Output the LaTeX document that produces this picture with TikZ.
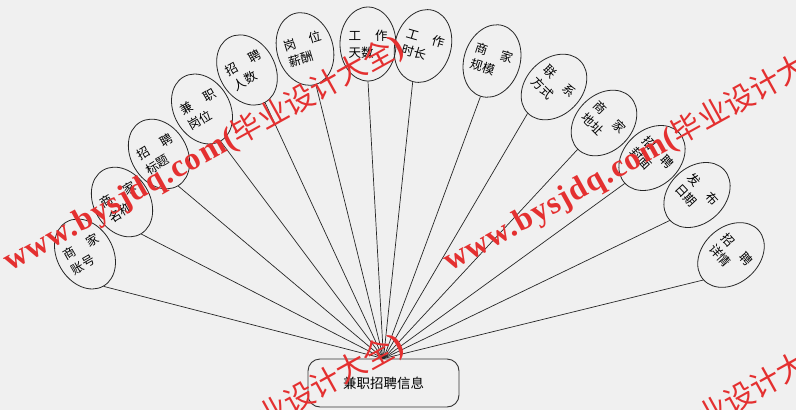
\documentclass[tikz,border=0pt]{standalone}
\usepackage{fontspec}
\setmainfont{Liberation Serif}
\newfontfamily\cjk{Noto Sans CJK SC}
\newfontfamily\wmlatin[LetterSpace=4]{Liberation Serif}
\usetikzlibrary{shapes.geometric}
\definecolor{bg}{RGB}{240,240,240}
\definecolor{wm}{RGB}{228,48,48}
\begin{document}
\begin{tikzpicture}[x=1pt,y=-1pt,
  attr/.style={draw=black!85, line width=0.8pt, ellipse, minimum width=56pt, minimum height=74pt, inner sep=0pt, align=left, font=\cjk\fontsize{12.5}{17}\selectfont},
  ent/.style={draw=black!80, line width=0.9pt, rounded corners=12pt, minimum width=151pt, minimum height=48pt, font=\cjk\fontsize{13.5}{16}\selectfont},
  link/.style={draw=black!85, line width=0.7pt},
  wmark/.style={text=wm, font=\wmlatin\bfseries\fontsize{32}{32}\selectfont, rotate=29, anchor=base west, inner sep=0pt}
]
\fill[bg] (0,0) rectangle (796,410);
\useasboundingbox (0,0) rectangle (796,410);

\node[ent] (ent) at (383.5,383) {兼职招聘信息};

\node[attr, rotate=30] (e1) at (85,254) {商\hspace{14pt}家\\账号};
\node[attr, rotate=31] (e2) at (122,202) {商\hspace{14pt}家\\名称};
\node[attr, rotate=31] (e3) at (159,154) {招\hspace{14pt}聘\\标题};
\node[attr, rotate=30] (e4) at (202,109) {兼\hspace{14pt}职\\岗位};
\node[attr, rotate=29] (e5) at (247,70) {招\hspace{14pt}聘\\人数};
\node[attr, rotate=17] (e6) at (305,49) {岗\hspace{14pt}位\\薪酬};
\node[attr, rotate=0] (e7) at (368,44) {工\hspace{14pt}作\\天数};
\node[attr, rotate=-16] (e8) at (423,46) {工\hspace{14pt}作\\时长};
\node[attr, rotate=-18] (e9) at (492,61) {商\hspace{14pt}家\\规模};
\node[attr, rotate=-45] (e10) at (554,87) {联\hspace{14pt}系\\方式};
\node[attr, rotate=-45] (e11) at (604,123) {商\hspace{14pt}家\\地址};
\node[attr, rotate=-47] (e12) at (652,158) {招\hspace{14pt}聘\\封面};
\node[attr, rotate=-47] (e13) at (697,195) {发\hspace{14pt}布\\日期};
\node[attr, rotate=-48] (e14) at (731,255) {招\hspace{14pt}聘\\详情};

\foreach \i in {1,...,14} {
  \draw[link] (ent.north) -- (e\i.south);
}

\begin{scope}
\clip (0,0) rectangle (796,410);
\node[wmark] (w1) at (10,272) {www.bysjdq.com({\cjk\mdseries\fontsize{30}{30}\selectfont 毕业设计大全})};
\node[wmark] (w2) at (450,272) {www.bysjdq.com({\cjk\mdseries\fontsize{30}{30}\selectfont 毕业设计大全})};
\node[wmark] (w3) at (10,570) {www.bysjdq.com({\cjk\mdseries\fontsize{30}{30}\selectfont 毕业设计大全})};
\node[wmark] (w4) at (450,570) {www.bysjdq.com({\cjk\mdseries\fontsize{30}{30}\selectfont 毕业设计大全})};
\end{scope}
\end{tikzpicture}
\end{document}
